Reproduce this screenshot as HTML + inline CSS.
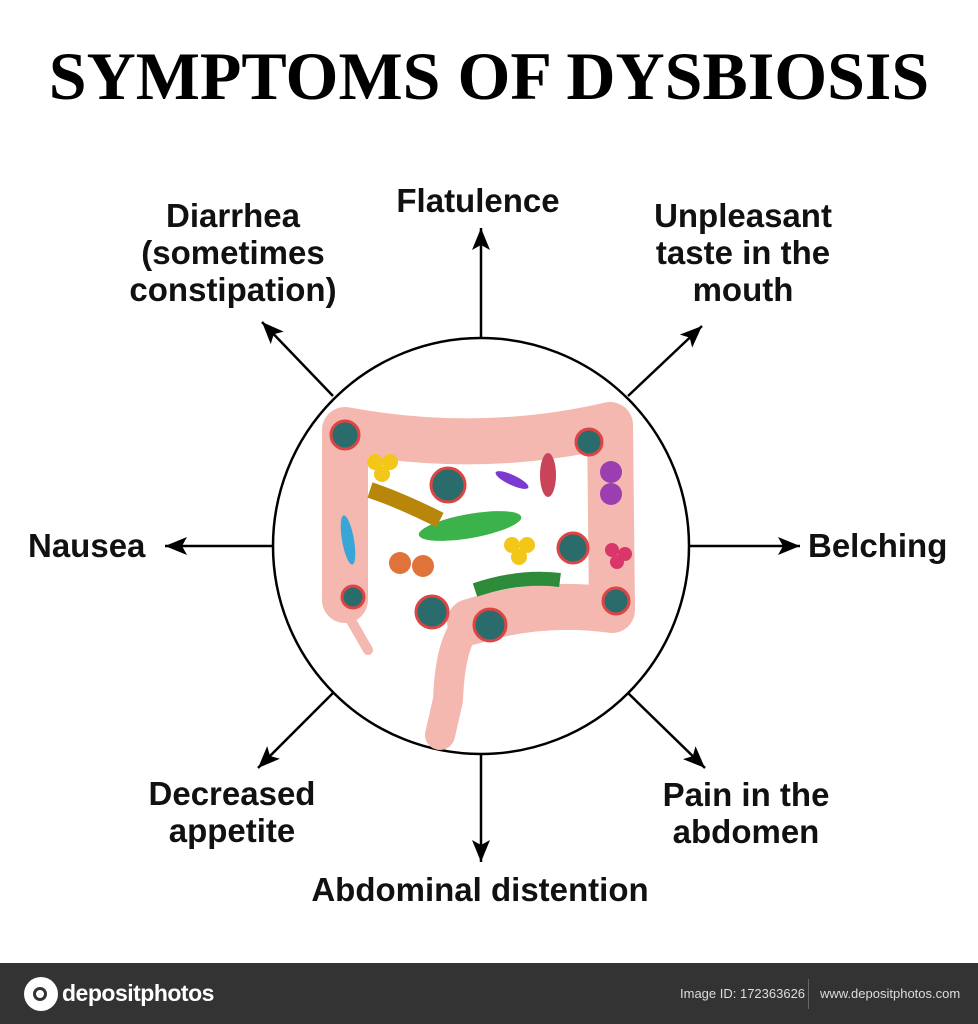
<!DOCTYPE html>
<html><head><meta charset="utf-8"><style>
html,body{margin:0;padding:0;background:#fff;}
body{width:978px;height:1024px;position:relative;overflow:hidden;font-family:"Liberation Sans",sans-serif;}
.t{position:absolute;font-weight:bold;font-size:33px;color:#111;text-align:center;line-height:37px;white-space:nowrap;}
#title{position:absolute;left:0;width:978px;top:37px;text-align:center;font-family:"Liberation Serif",serif;font-weight:bold;font-size:68px;letter-spacing:0px;color:#000;}
#bar{position:absolute;left:0;top:963px;width:978px;height:61px;background:#333;color:#fff;}
</style></head><body>
<div id="title">SYMPTOMS OF DYSBIOSIS</div>
<svg width="978" height="963" style="position:absolute;left:0;top:0">
<defs>
<marker id="b" markerWidth="24" markerHeight="20" refX="22" refY="9" orient="auto" markerUnits="userSpaceOnUse"><path d="M0,0 L22,9 L0,18 L5,9z" fill="#000"/></marker></defs>
<g stroke="#000" stroke-width="2.5" marker-end="url(#b)">
<line x1="481" y1="338" x2="481" y2="228"/>
<line x1="481" y1="754" x2="481" y2="862"/>
<line x1="273" y1="546" x2="165" y2="546"/>
<line x1="689" y1="546" x2="800" y2="546"/>
<line x1="333" y1="396" x2="262" y2="322"/>
<line x1="628" y1="396" x2="702" y2="326"/>
<line x1="333" y1="693" x2="258" y2="768"/>
<line x1="628" y1="693" x2="705" y2="768"/>
</g>
<circle cx="481" cy="546" r="208" fill="#fff" stroke="#000" stroke-width="2.5"/>
<g fill="none" stroke="#f4b8b0" stroke-linecap="round" stroke-linejoin="round">
<path d="M345,600 L345,430 Q480,455 610,425 L612,610 Q540,600 470,622" stroke-width="46"/>
<path d="M470,622 Q450,640 448,700 L440,735" stroke-width="30"/>
<path d="M345,610 L368,650" stroke-width="10"/>
</g>
<ellipse cx="470" cy="526" rx="52" ry="12" fill="#3bb24a" transform="rotate(-10 470 526)"/>
<path d="M370,490 Q400,500 440,520" stroke="#b8860b" stroke-width="16" fill="none"/>
<path d="M475,590 Q520,575 560,580" stroke="#2e8b3a" stroke-width="14" fill="none"/>
<ellipse cx="348" cy="540" rx="6" ry="25" fill="#3aa6d8" transform="rotate(-10 348 540)"/>
<g fill="#f3c71a"><circle cx="375" cy="462" r="8"/><circle cx="390" cy="462" r="8"/><circle cx="382" cy="474" r="8"/><circle cx="512" cy="545" r="8"/><circle cx="527" cy="545" r="8"/><circle cx="519" cy="557" r="8"/></g>
<g fill="#e0733a"><circle cx="400" cy="563" r="11"/><circle cx="423" cy="566" r="11"/></g>
<g fill="#9b3fb0"><circle cx="611" cy="472" r="11"/><circle cx="611" cy="494" r="11"/></g>
<g fill="#d9366a"><circle cx="612" cy="550" r="7"/><circle cx="625" cy="554" r="7"/><circle cx="617" cy="562" r="7"/></g>
<ellipse cx="548" cy="475" rx="8" ry="22" fill="#c94459"/>
<ellipse cx="512" cy="480" rx="18" ry="5" fill="#7b3bd0" transform="rotate(25 512 480)"/>
<g fill="#2a6c6c" stroke="#d44" stroke-width="3">
<circle cx="345" cy="435" r="14"/><circle cx="448" cy="485" r="17"/><circle cx="589" cy="442" r="13"/><circle cx="573" cy="548" r="15"/><circle cx="353" cy="597" r="11"/><circle cx="432" cy="612" r="16"/><circle cx="490" cy="625" r="16"/><circle cx="616" cy="601" r="13"/>
</g>
</svg>
<div class="t" style="left:328px;top:182px;width:300px">Flatulence</div>
<div class="t" style="left:83px;top:197px;width:300px">Diarrhea<br>(sometimes<br>constipation)</div>
<div class="t" style="left:593px;top:197px;width:300px">Unpleasant<br>taste in the<br>mouth</div>
<div class="t" style="left:28px;top:527px;text-align:left">Nausea</div>
<div class="t" style="left:808px;top:527px;text-align:left">Belching</div>
<div class="t" style="left:82px;top:775px;width:300px">Decreased<br>appetite</div>
<div class="t" style="left:596px;top:776px;width:300px">Pain in the<br>abdomen</div>
<div class="t" style="left:230px;top:871px;width:500px">Abdominal distention</div>
<div id="bar">
<div style="position:absolute;left:24px;top:14px;width:34px;height:34px;border-radius:50%;background:#fff"></div>
<div style="position:absolute;left:33px;top:24px;width:14px;height:14px;border-radius:50%;border:3px solid #333;box-sizing:border-box"></div>
<div style="position:absolute;left:62px;top:17px;font-size:23px;font-weight:bold;letter-spacing:-0.5px">depositphotos</div>
<div style="position:absolute;left:680px;top:23px;font-size:13px;color:#ddd">Image ID: 172363626</div>
<div style="position:absolute;left:808px;top:16px;width:1px;height:30px;background:#666"></div>
<div style="position:absolute;left:820px;top:23px;font-size:13px;color:#ddd">www.depositphotos.com</div>
</div>
</body></html>
